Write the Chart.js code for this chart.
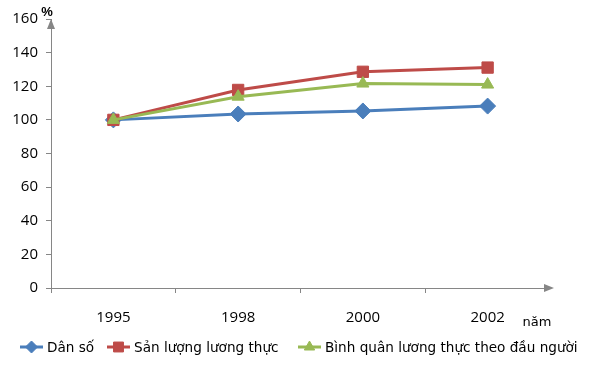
<!DOCTYPE html>
<html lang="vi">
<head>
    <meta charset="UTF-8">
    <title>Dân số và lương thực</title>
    <script src="https://cdn.jsdelivr.net/npm/chart.js"></script>
    <style>
        html, body { margin: 0; padding: 0; background: #fff; }
        .chart-container { position: relative; width: 597px; height: 369px; }
    </style>
</head>
<body>
    <div class="chart-container">
        <canvas id="lineChart"></canvas>
    </div>

    <script>
        // số liệu
        const years = ['1995', '1998', '2000', '2002'];
        const danSo = [100, 103.5, 105.3, 108.2];
        const sanLuong = [100, 117.8, 128.6, 131.1];
        const binhQuan = [100, 113.8, 121.6, 121.0];
        const yTicks = [0, 20, 40, 60, 80, 100, 120, 140, 160];

        const axisColor = '#868686';
        // order: đường sau cùng vẽ đè lên trên
        const seriesStyle = [
            { label: 'Dân số', color: '#4A7EBB', point: 'rectRot', radius: 8, order: 2 },
            { label: 'Sản lượng lương thực', color: '#BE4B48', point: 'rect', radius: 8, order: 1 },
            { label: 'Bình quân lương thực theo đầu người', color: '#98B954', point: 'triangle', radius: 7, order: 0 }
        ];
        const seriesData = [danSo, sanLuong, binhQuan];

        // mũi tên trục, chữ "%" và "năm", chú giải
        const extras = {
            id: 'extras',
            afterDraw(chart) {
                const ctx = chart.ctx;
                const a = chart.chartArea;
                ctx.save();
                ctx.fillStyle = axisColor;
                // mũi tên trục y
                ctx.beginPath();
                ctx.moveTo(a.left, a.top);
                ctx.lineTo(a.left - 4, a.top + 10);
                ctx.lineTo(a.left + 4, a.top + 10);
                ctx.closePath();
                ctx.fill();
                // mũi tên trục x
                ctx.beginPath();
                ctx.moveTo(a.right + 4, a.bottom);
                ctx.lineTo(a.right - 6, a.bottom - 4);
                ctx.lineTo(a.right - 6, a.bottom + 4);
                ctx.closePath();
                ctx.fill();

                ctx.fillStyle = '#000';
                ctx.font = 'bold 13px "Liberation Sans", Arial, sans-serif';
                ctx.textAlign = 'center';
                ctx.textBaseline = 'middle';
                ctx.fillText('%', 47, 12);
                ctx.font = '13px "DejaVu Sans", Tahoma, sans-serif';
                ctx.fillText('năm', 537, 323);

                // chú giải
                const items = [20, 107, 298];
                const legendRadius = [6, 7, 6];
                ctx.textAlign = 'left';
                ctx.font = '13.6px "DejaVu Sans", Tahoma, sans-serif';
                chart.data.datasets.forEach((ds, i) => {
                    const x = items[i], y = 347;
                    ctx.strokeStyle = ds.borderColor;
                    ctx.lineWidth = 3;
                    ctx.beginPath();
                    ctx.moveTo(x, y);
                    ctx.lineTo(x + 23, y);
                    ctx.stroke();
                    ctx.fillStyle = ds.borderColor;
                    ctx.lineWidth = 1;
                    Chart.helpers.drawPoint(ctx, {
                        pointStyle: ds.pointStyle, radius: legendRadius[i], borderWidth: 1
                    }, x + 11.5, y);
                    ctx.fillStyle = '#000';
                    ctx.fillText(ds.label, x + 27, y + 1);
                });
                ctx.restore();
            }
        };

        new Chart(document.getElementById('lineChart'), {
            type: 'line',
            data: {
                labels: years,
                datasets: seriesStyle.map((s, i) => ({
                    label: s.label,
                    data: seriesData[i],
                    borderColor: s.color,
                    backgroundColor: s.color,
                    borderWidth: 3,
                    pointStyle: s.point,
                    pointRadius: s.radius,
                    pointBorderWidth: 1,
                    order: s.order,
                    tension: 0
                }))
            },
            plugins: [extras],
            options: {
                responsive: true,
                maintainAspectRatio: false,
                animation: false,
                layout: { padding: { left: 0, top: 19, right: 47, bottom: 0 } },
                plugins: {
                    legend: { display: false },
                    tooltip: { enabled: false }
                },
                scales: {
                    x: {
                        offset: true,
                        grid: {
                            offset: true,
                            drawOnChartArea: false,
                            drawTicks: true,
                            tickLength: 5,
                            color: (c) => c.type === 'tick' ? axisColor : 'rgba(0,0,0,0)'
                        },
                        border: { color: axisColor, width: 1 },
                        ticks: {
                            color: '#000',
                            padding: 16,
                            font: { family: '"Open Sans", "Liberation Sans", sans-serif', size: 15 }
                        },
                        afterFit(scale) { scale.height = 81; }
                    },
                    y: {
                        min: 0,
                        max: 160,
                        afterBuildTicks(scale) {
                            scale.ticks = yTicks.map(v => ({ value: v }));
                        },
                        grid: {
                            drawOnChartArea: false,
                            drawTicks: true,
                            tickLength: 5,
                            color: axisColor
                        },
                        border: { color: axisColor, width: 1 },
                        ticks: {
                            color: '#000',
                            padding: 8,
                            font: { family: '"Open Sans", "Liberation Sans", sans-serif', size: 15 }
                        },
                        afterFit(scale) { scale.width = 51; }
                    }
                }
            }
        });
    </script>
</body>
</html>
